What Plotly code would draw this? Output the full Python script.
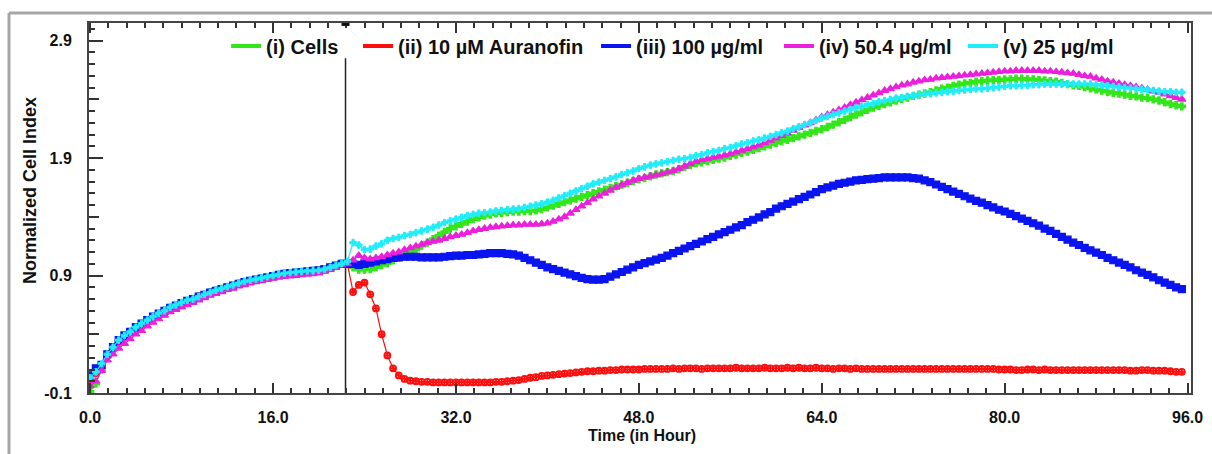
import plotly.graph_objects as go

# time axis: one reading every 0.5 h from 0 to 95.5 h
time_h = [i * 0.5 for i in range(192)]

cells = [
    -0.09, -0.02, 0.10, 0.21, 0.28, 0.34, 0.38, 0.42, 0.45, 0.48,
    0.51, 0.54, 0.57, 0.60, 0.62, 0.64, 0.66, 0.68, 0.70, 0.72,
    0.735, 0.755, 0.77, 0.785, 0.80, 0.815, 0.83, 0.845, 0.855, 0.865,
    0.875, 0.885, 0.895, 0.905, 0.915, 0.92, 0.925, 0.93, 0.935, 0.94,
    0.945, 0.955, 0.965, 0.98, 1.0, 1.0, 0.97, 0.95, 0.95, 0.955,
    0.97, 0.99, 1.005, 1.03, 1.05, 1.07, 1.09, 1.12, 1.155, 1.18,
    1.21, 1.24, 1.27, 1.30, 1.32, 1.34, 1.36, 1.38, 1.395, 1.41,
    1.42, 1.43, 1.435, 1.44, 1.445, 1.445, 1.45, 1.45, 1.455, 1.465,
    1.48, 1.495, 1.51, 1.525, 1.54, 1.555, 1.57, 1.585, 1.60, 1.615,
    1.63, 1.645, 1.66, 1.675, 1.69, 1.705, 1.72, 1.73, 1.745, 1.76,
    1.77, 1.78, 1.79, 1.805, 1.825, 1.84, 1.855, 1.865, 1.875, 1.885,
    1.895, 1.905, 1.92, 1.93, 1.945, 1.955, 1.97, 1.985, 2.0, 2.015,
    2.03, 2.045, 2.055, 2.07, 2.085, 2.10, 2.115, 2.13, 2.145, 2.165,
    2.185, 2.205, 2.225, 2.25, 2.27, 2.29, 2.31, 2.33, 2.345, 2.36,
    2.375, 2.39, 2.405, 2.415, 2.43, 2.44, 2.45, 2.46, 2.475, 2.49,
    2.50, 2.515, 2.525, 2.535, 2.54, 2.55, 2.555, 2.56, 2.565, 2.565,
    2.57, 2.57, 2.575, 2.575, 2.57, 2.57, 2.565, 2.56, 2.555, 2.55,
    2.54, 2.53, 2.52, 2.515, 2.505, 2.495, 2.485, 2.475, 2.465, 2.455,
    2.45, 2.44, 2.43, 2.425, 2.415, 2.41, 2.40, 2.39, 2.375, 2.36,
    2.35, 2.34,
]

auranofin = [
    0.02, 0.07, 0.13, 0.22, 0.28, 0.34, 0.38, 0.42, 0.45, 0.48,
    0.51, 0.54, 0.57, 0.60, 0.62, 0.64, 0.66, 0.68, 0.70, 0.72,
    0.735, 0.75, 0.77, 0.785, 0.80, 0.815, 0.83, 0.845, 0.855, 0.865,
    0.875, 0.885, 0.895, 0.905, 0.915, 0.92, 0.925, 0.93, 0.935, 0.94,
    0.945, 0.955, 0.97, 0.985, 1.0, 1.0, 0.76, 0.82, 0.84, 0.74,
    0.62, 0.40, 0.22, 0.11, 0.05, 0.02, 0.005, 0.0, -0.005, -0.005,
    -0.01, -0.01, -0.01, -0.01, -0.01, -0.01, -0.01, -0.01, -0.01, -0.01,
    -0.01, -0.005, -0.005, 0.0, 0.005, 0.01, 0.02, 0.03, 0.035, 0.045,
    0.05, 0.055, 0.06, 0.065, 0.07, 0.075, 0.08, 0.085, 0.085, 0.09,
    0.09, 0.095, 0.095, 0.10, 0.10, 0.10, 0.10, 0.105, 0.105, 0.105,
    0.105, 0.105, 0.11, 0.105, 0.11, 0.11, 0.11, 0.105, 0.11, 0.11,
    0.11, 0.11, 0.11, 0.115, 0.11, 0.11, 0.11, 0.11, 0.115, 0.11,
    0.11, 0.11, 0.115, 0.11, 0.115, 0.11, 0.11, 0.115, 0.11, 0.11,
    0.105, 0.11, 0.11, 0.105, 0.11, 0.105, 0.105, 0.105, 0.105, 0.105,
    0.105, 0.105, 0.105, 0.105, 0.105, 0.105, 0.105, 0.105, 0.105, 0.105,
    0.105, 0.105, 0.105, 0.105, 0.105, 0.105, 0.105, 0.105, 0.105, 0.10,
    0.10, 0.10, 0.095, 0.095, 0.10, 0.10, 0.095, 0.10, 0.095, 0.095,
    0.095, 0.095, 0.095, 0.095, 0.095, 0.095, 0.095, 0.095, 0.095, 0.095,
    0.095, 0.095, 0.09, 0.09, 0.095, 0.095, 0.09, 0.09, 0.09, 0.085,
    0.08, 0.08,
]

dose_100 = [
    0.05, 0.11, 0.14, 0.23, 0.29, 0.35, 0.39, 0.42, 0.46, 0.49,
    0.52, 0.55, 0.575, 0.60, 0.625, 0.645, 0.665, 0.685, 0.70, 0.72,
    0.735, 0.755, 0.77, 0.785, 0.80, 0.815, 0.83, 0.845, 0.855, 0.865,
    0.875, 0.885, 0.895, 0.905, 0.915, 0.92, 0.925, 0.93, 0.935, 0.94,
    0.945, 0.955, 0.97, 0.985, 1.0, 1.0, 1.0, 0.99, 1.0, 1.01,
    1.02, 1.03, 1.04, 1.05, 1.055, 1.06, 1.06, 1.06, 1.055, 1.055,
    1.055, 1.055, 1.06, 1.065, 1.07, 1.07, 1.075, 1.075, 1.08, 1.085,
    1.09, 1.09, 1.09, 1.085, 1.08, 1.07, 1.05, 1.03, 1.01, 0.99,
    0.97, 0.955, 0.94, 0.925, 0.91, 0.895, 0.88, 0.87, 0.865, 0.865,
    0.87, 0.89, 0.91, 0.93, 0.95, 0.97, 0.99, 1.005, 1.02, 1.035,
    1.05, 1.07, 1.09, 1.11, 1.13, 1.15, 1.17, 1.19, 1.21, 1.23,
    1.25, 1.27, 1.29, 1.31, 1.33, 1.355, 1.375, 1.395, 1.42, 1.44,
    1.47, 1.49, 1.51, 1.53, 1.55, 1.57, 1.59, 1.61, 1.635, 1.65,
    1.665, 1.68, 1.69, 1.70, 1.71, 1.715, 1.72, 1.725, 1.73, 1.735,
    1.735, 1.735, 1.735, 1.735, 1.73, 1.725, 1.71, 1.695, 1.675, 1.655,
    1.635, 1.615, 1.595, 1.575, 1.555, 1.535, 1.52, 1.50, 1.48, 1.46,
    1.445, 1.425, 1.405, 1.385, 1.365, 1.345, 1.325, 1.30, 1.28, 1.255,
    1.23, 1.205, 1.18, 1.16, 1.135, 1.115, 1.095, 1.075, 1.05, 1.03,
    1.01, 0.99, 0.97, 0.945, 0.925, 0.905, 0.885, 0.86, 0.84, 0.82,
    0.80, 0.785,
]

dose_50 = [
    -0.04, 0.0, 0.09, 0.18, 0.23, 0.28, 0.32, 0.36, 0.40, 0.43,
    0.47, 0.50, 0.53, 0.56, 0.59, 0.61, 0.63, 0.65, 0.67, 0.69,
    0.71, 0.73, 0.745, 0.76, 0.78, 0.79, 0.81, 0.82, 0.835, 0.845,
    0.855, 0.865, 0.875, 0.885, 0.89, 0.895, 0.90, 0.905, 0.91, 0.915,
    0.92, 0.935, 0.95, 0.97, 0.99, 1.0, 1.03, 1.07, 1.05, 1.04,
    1.05, 1.06, 1.075, 1.09, 1.10, 1.12, 1.135, 1.15, 1.165, 1.18,
    1.19, 1.20, 1.215, 1.23, 1.24, 1.25, 1.265, 1.28, 1.29, 1.30,
    1.31, 1.315, 1.32, 1.325, 1.33, 1.33, 1.335, 1.335, 1.335, 1.34,
    1.345, 1.36, 1.38, 1.40, 1.43, 1.46, 1.49, 1.52, 1.55, 1.575,
    1.60, 1.625, 1.65, 1.67, 1.69, 1.71, 1.725, 1.735, 1.745, 1.755,
    1.765, 1.78, 1.79, 1.81, 1.83, 1.85, 1.87, 1.885, 1.895, 1.905,
    1.915, 1.925, 1.935, 1.95, 1.965, 1.98, 1.995, 2.01, 2.03, 2.05,
    2.07, 2.09, 2.11, 2.135, 2.16, 2.18, 2.20, 2.225, 2.25, 2.27,
    2.29, 2.31, 2.33, 2.355, 2.375, 2.395, 2.415, 2.435, 2.455, 2.475,
    2.49, 2.505, 2.52, 2.53, 2.545, 2.555, 2.565, 2.57, 2.58, 2.585,
    2.59, 2.595, 2.60, 2.605, 2.61, 2.615, 2.62, 2.625, 2.63, 2.635,
    2.64, 2.64, 2.645, 2.645, 2.645, 2.645, 2.645, 2.64, 2.64, 2.635,
    2.63, 2.625, 2.62, 2.61, 2.60, 2.595, 2.58, 2.57, 2.555, 2.545,
    2.535, 2.525, 2.515, 2.505, 2.495, 2.485, 2.47, 2.46, 2.445, 2.43,
    2.415, 2.40,
]

dose_25 = [
    0.03, 0.08, 0.15, 0.23, 0.29, 0.35, 0.39, 0.42, 0.46, 0.49,
    0.52, 0.55, 0.58, 0.60, 0.63, 0.65, 0.67, 0.69, 0.70, 0.72,
    0.74, 0.755, 0.775, 0.79, 0.805, 0.82, 0.835, 0.85, 0.86, 0.87,
    0.88, 0.89, 0.90, 0.91, 0.92, 0.925, 0.93, 0.935, 0.94, 0.94,
    0.945, 0.955, 0.97, 0.985, 1.0, 1.02, 1.18, 1.16, 1.12, 1.125,
    1.15, 1.17, 1.20, 1.215, 1.225, 1.24, 1.25, 1.265, 1.28, 1.295,
    1.31, 1.33, 1.35, 1.365, 1.38, 1.395, 1.41, 1.42, 1.43, 1.435,
    1.44, 1.45, 1.455, 1.46, 1.465, 1.47, 1.48, 1.49, 1.50, 1.51,
    1.525, 1.54, 1.56, 1.58, 1.60, 1.62, 1.64, 1.66, 1.68, 1.695,
    1.71, 1.725, 1.74, 1.76, 1.775, 1.79, 1.81, 1.825, 1.84, 1.85,
    1.86, 1.87, 1.88, 1.89, 1.895, 1.905, 1.92, 1.93, 1.945, 1.955,
    1.965, 1.98, 1.99, 2.005, 2.02, 2.03, 2.045, 2.055, 2.07, 2.085,
    2.10, 2.115, 2.13, 2.15, 2.165, 2.185, 2.20, 2.22, 2.24, 2.255,
    2.27, 2.285, 2.30, 2.315, 2.33, 2.34, 2.355, 2.365, 2.38, 2.39,
    2.40, 2.41, 2.415, 2.425, 2.43, 2.44, 2.445, 2.45, 2.455, 2.46,
    2.465, 2.47, 2.475, 2.48, 2.485, 2.49, 2.49, 2.495, 2.50, 2.505,
    2.51, 2.515, 2.515, 2.52, 2.52, 2.525, 2.525, 2.53, 2.53, 2.53,
    2.53, 2.53, 2.53, 2.53, 2.53, 2.53, 2.525, 2.52, 2.515, 2.51,
    2.505, 2.50, 2.495, 2.49, 2.485, 2.48, 2.475, 2.47, 2.465, 2.465,
    2.46, 2.46,
]

series_names = ["(i) Cells", "(ii) 10 µM Auranofin", "(iii) 100 µg/ml",
                "(iv) 50.4 µg/ml", "(v) 25 µg/ml"]
x_tick_vals = [0, 16, 32, 48, 64, 80, 96]
x_tick_text = ["0.0", "16.0", "32.0", "48.0", "64.0", "80.0", "96.0"]
y_tick_vals = [-0.1, 0.9, 1.9, 2.9]
y_tick_text = ["-0.1", "0.9", "1.9", "2.9"]
y_mid_ticks = [0.4, 1.4, 2.4]
treatment_time = 22.34

FONT = "Arial, Liberation Sans, sans-serif"
colors = ["#33e61a", "#ff0d0d", "#0a14f0", "#ea20dc", "#20ecfa"]
symbols = ["cross", "circle-cross-open", "square", "triangle-up", "cross"]
msizes = [6, 6, 7, 7, 5.5]
lwidths = [1.2, 1.2, 3, 1.2, 1.2]
mlines = [1.2, 1.8, 1.2, 1.2, 1.0]
series = [cells, auranofin, dose_100, dose_50, dose_25]
# legend boxes: left edge of each legend entry, in paper units
legend_x = [0.1244, 0.2441, 0.4601, 0.6261, 0.7931]
legend_keys = ["legend", "legend2", "legend3", "legend4", "legend5"]

fig = go.Figure()
for name, vals, c, s, ms, lw, mlw in zip(series_names, series, colors, symbols,
                                         msizes, lwidths, mlines):
    fig.add_trace(go.Scatter(
        x=time_h, y=vals, mode="lines+markers", name=name, showlegend=False,
        line=dict(color=c, width=lw),
        marker=dict(symbol=s, size=ms, color=c, line=dict(color=c, width=mlw)),
    ))
# legend entries (line only), one legend per entry to place them like the original
for name, c, key in zip(series_names, colors, legend_keys):
    fig.add_trace(go.Scatter(x=[None], y=[None], mode="lines", name=name,
                             line=dict(color=c, width=4), legend=key))
# helper trace for the medium-length y ticks axis
fig.add_trace(go.Scatter(x=[None], y=[None], yaxis="y2", showlegend=False,
                         hoverinfo="skip"))

legend_font = dict(family=FONT, size=20, color="#111", weight="bold")
legend_layout = {}
for key, lx in zip(legend_keys, legend_x):
    legend_layout[key] = dict(orientation="h", x=lx, y=0.938, xanchor="left",
                              yanchor="middle", bgcolor="rgba(255,255,255,0)",
                              font=legend_font, itemwidth=30)

tickfont = dict(family=FONT, size=16, color="#111", weight="bold")
fig.update_layout(
    width=1212, height=454,
    margin=dict(l=89, r=21, t=23, b=61),
    paper_bgcolor="white", plot_bgcolor="white",
    showlegend=True,
    **legend_layout,
    xaxis=dict(range=[-0.1, 96.3], tickvals=x_tick_vals, ticktext=x_tick_text,
               ticks="inside", ticklen=10, tickwidth=1.5, tickcolor="#333",
               showline=True, linecolor="#444", linewidth=2, mirror="ticks",
               showgrid=False, zeroline=False, tickfont=tickfont, ticklabelstandoff=9,
               automargin=False,
               minor=dict(dtick=1.6, tick0=0, ticks="inside", ticklen=5,
                          tickwidth=1.5, tickcolor="#333")),
    yaxis=dict(range=[-0.1, 3.05], tickvals=y_tick_vals, ticktext=y_tick_text,
               ticks="inside", ticklen=14, tickwidth=1.5, tickcolor="#333",
               showline=True, linecolor="#444", linewidth=2, mirror=True,
               showgrid=False, zeroline=False, tickfont=tickfont, ticklabelstandoff=12,
               automargin=False,
               minor=dict(dtick=0.1, tick0=-0.1, ticks="inside", ticklen=6,
                          tickwidth=1.5, tickcolor="#333")),
    yaxis2=dict(range=[-0.1, 3.05], overlaying="y", side="left", tickvals=y_mid_ticks,
                ticks="inside", ticklen=10, tickwidth=1.5, tickcolor="#333",
                showticklabels=False, showline=False, showgrid=False, zeroline=False,
                automargin=False),
    annotations=[
        dict(text="Time (in Hour)", xref="paper", yref="paper", x=0.502, y=-0.116,
             xanchor="center", yanchor="middle", showarrow=False,
             font=dict(family=FONT, size=16, color="#111", weight="bold")),
        dict(text="Normalized Cell Index", xref="paper", yref="paper", x=-0.0535, y=0.546,
             xanchor="center", yanchor="middle", textangle=-90, showarrow=False,
             font=dict(family=FONT, size=18, color="#111", weight="bold")),
    ],
    shapes=[
        dict(type="line", xref="x", yref="y", x0=treatment_time, x1=treatment_time,
             y0=-0.1, y1=2.75, line=dict(color="#222", width=1.5), layer="below"),
        dict(type="rect", xref="x", yref="y", x0=treatment_time - 0.35,
             x1=treatment_time + 0.35, y0=3.025, y1=3.05,
             line=dict(width=0), fillcolor="#111"),
        dict(type="line", xref="paper", yref="paper", x0=-0.0726, x1=-0.0726,
             y0=-0.3, y1=1.027, line=dict(color="#a6a6a6", width=3)),
        dict(type="line", xref="paper", yref="paper", x0=-0.0726, x1=1.1,
             y0=1.027, y1=1.027, line=dict(color="#a6a6a6", width=3)),
    ],
)

fig.write_html("out.html", config={"displayModeBar": False},
               post_script="document.body.style.margin='0px';")
